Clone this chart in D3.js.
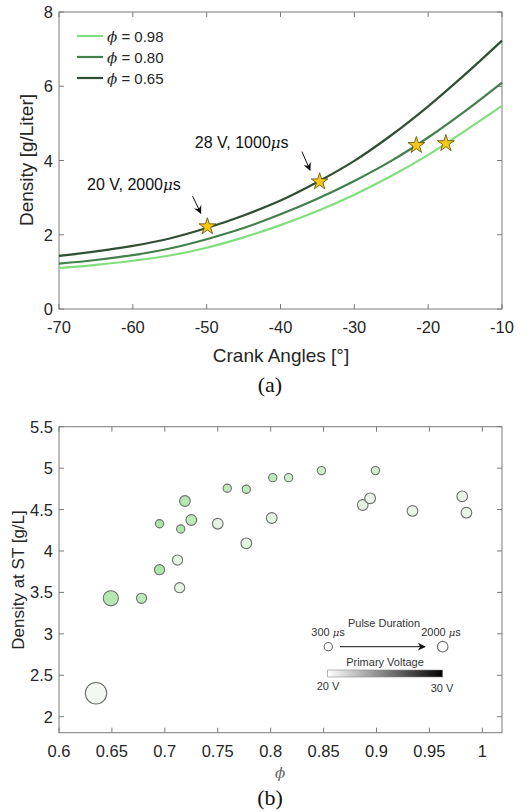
<!DOCTYPE html>
<html><head><meta charset="utf-8">
<script src="https://cdn.jsdelivr.net/npm/d3@7"></script>
<style>body{margin:0;background:#fff;} svg{display:block;font-family:"Liberation Sans",Arial,sans-serif;}</style>
</head><body>
<svg id="c" width="527" height="812"></svg>
<script>
// ---------- Data: panel (a) ----------
const crankAngles = [-70,-65,-60,-55,-50,-45,-40,-35,-30,-25,-20,-15,-10];
const dens098 = [1.10,1.19,1.30,1.44,1.65,1.93,2.26,2.64,3.08,3.58,4.15,4.80,5.47];
const dens080 = [1.22,1.32,1.45,1.63,1.88,2.18,2.55,2.97,3.45,3.99,4.62,5.33,6.10];
const dens065 = [1.43,1.55,1.70,1.90,2.18,2.52,2.92,3.42,3.99,4.68,5.46,6.32,7.23];
const seriesNames = ["ϕ = 0.98","ϕ = 0.80","ϕ = 0.65"];
const starCrank = [-49.9,-34.7,-21.6,-17.6];
const starDens = [2.22,3.43,4.41,4.46];
const annoText = ["20 V, 2000","28 V, 1000"];
const annoX = [-66.2,-51.6];
const annoY = [3.2,4.33];
const arrowFrom = [[-51.9,3.04],[-37.1,4.24]];
const arrowTo = [[-50.8,2.58],[-36.0,3.74]];
const xTicksA = [-70,-60,-50,-40,-30,-20,-10];
const yTicksA = [0,2,4,6,8];

// ---------- Data: panel (b) ----------
const phiVals = [0.848,0.899,0.802,0.817,0.759,0.777,0.719,0.695,0.715,0.725,0.750,0.801,0.777,0.887,0.894,0.934,0.981,0.985,0.712,0.695,0.714,0.649,0.678,0.635];
const densST  = [4.97,4.97,4.885,4.885,4.757,4.745,4.603,4.329,4.265,4.374,4.329,4.398,4.093,4.555,4.636,4.483,4.66,4.462,3.891,3.774,3.557,3.429,3.429,2.283];
const pulseUs = [300,300,300,300,300,300,500,300,300,500,500,500,500,500,500,500,500,500,450,450,450,1000,450,2000];
const voltV   = [25,25,27,25,27,27,28,29,29,27,22,22,22,22,21,21,21,21,22,29,22,28,27,20];
const xTicksB = [0.6,0.65,0.7,0.75,0.8,0.85,0.9,0.95,1];
const yTicksB = [2,2.5,3,3.5,4,4.5,5,5.5];

const svg = d3.select("#c");
const txt = "#262626", axc = "#7a7a7a";

function frame(g, x, y, xt, yt, fmtX, fmtY) {
  const [x0,x1] = x.range(), [y0,y1] = y.range();
  g.append("rect").attr("x",x0).attr("y",y1).attr("width",x1-x0).attr("height",y0-y1)
    .attr("fill","none").attr("stroke",axc).attr("stroke-width",1);
  const tl = 5;
  xt.forEach(v=>{
    g.append("line").attr("x1",x(v)).attr("x2",x(v)).attr("y1",y0).attr("y2",y0-tl).attr("stroke",axc);
    g.append("line").attr("x1",x(v)).attr("x2",x(v)).attr("y1",y1).attr("y2",y1+tl).attr("stroke",axc);
    g.append("text").attr("x",x(v)).attr("y",y0+24).attr("text-anchor","middle")
      .attr("font-size",16.5).attr("fill",txt).text(fmtX(v));
  });
  yt.forEach(v=>{
    g.append("line").attr("x1",x0).attr("x2",x0+tl).attr("y1",y(v)).attr("y2",y(v)).attr("stroke",axc);
    g.append("line").attr("x1",x1).attr("x2",x1-tl).attr("y1",y(v)).attr("y2",y(v)).attr("stroke",axc);
    g.append("text").attr("x",x0-6).attr("y",y(v)+6).attr("text-anchor","end")
      .attr("font-size",16.5).attr("fill",txt).text(fmtY(v));
  });
}

// ---------- Panel (a) ----------
const xA = d3.scaleLinear().domain([-70,-10]).range([59,502]);
const yA = d3.scaleLinear().domain([0,8]).range([309,12]);
const gA = svg.append("g");
frame(gA, xA, yA, xTicksA, yTicksA, d=>String(d), d=>d);

const lineColors = ["#80df7c","#437f4b","#2f4f34"];
const allSeries = [dens098, dens080, dens065];
const line = d3.line().x((d,i)=>xA(crankAngles[i])).y(d=>yA(d)).curve(d3.curveCatmullRom.alpha(0.5));
allSeries.forEach((s,k)=>{
  gA.append("path").attr("d",line(s)).attr("fill","none").attr("stroke",lineColors[k]).attr("stroke-width",2.2);
});

// legend
seriesNames.forEach((n,k)=>{
  const yy = 36 + k*21;
  gA.append("line").attr("x1",77).attr("x2",103).attr("y1",yy).attr("y2",yy).attr("stroke",lineColors[k]).attr("stroke-width",2.2);
  const t = gA.append("text").attr("x",107).attr("y",yy+5.5).attr("font-size",15).attr("fill",txt);
  t.append("tspan").attr("font-style","italic").attr("font-family","'DejaVu Serif',serif").text(n.slice(0,1));
  t.append("tspan").text(n.slice(1));
});

// arrows
svg.append("defs").append("marker").attr("id","ah").attr("viewBox","0 0 10 10").attr("refX",9).attr("refY",5)
  .attr("markerWidth",8).attr("markerHeight",8).attr("orient","auto").attr("markerUnits","userSpaceOnUse")
  .append("path").attr("d","M0,0 L10,5 L0,10 L3,5 z").attr("fill","#111");
arrowFrom.forEach((f,i)=>{
  gA.append("line").attr("x1",xA(f[0])).attr("y1",yA(f[1])).attr("x2",xA(arrowTo[i][0])).attr("y2",yA(arrowTo[i][1]))
    .attr("stroke","#111").attr("stroke-width",1).attr("marker-end","url(#ah)");
});
annoText.forEach((a,i)=>{
  const t = gA.append("text").attr("x",xA(annoX[i])).attr("y",yA(annoY[i])).attr("font-size",16).attr("fill","#111");
  t.append("tspan").text(a);
  t.append("tspan").attr("font-style","italic").attr("font-family","'DejaVu Serif',serif").attr("font-size",15).text("μ");
  t.append("tspan").text("s");
});

// stars
starCrank.forEach((c,i)=>{
  gA.append("path").attr("d",d3.symbol(d3.symbolStar,88)())
    .attr("transform",`translate(${xA(c)},${yA(starDens[i])})`)
    .attr("fill","#f6c716").attr("stroke","#5a4a10").attr("stroke-width",0.8);
});

gA.append("text").attr("x",281).attr("y",362).attr("text-anchor","middle").attr("font-size",19).attr("fill",txt).text("Crank Angles [°]");
gA.append("text").attr("transform","translate(33,160) rotate(-90)").attr("text-anchor","middle").attr("font-size",19).attr("fill",txt).text("Density [g/Liter]");
gA.append("text").attr("x",270).attr("y",392).attr("text-anchor","middle").attr("font-size",22)
  .attr("font-family","'Liberation Serif','Times New Roman',serif").attr("fill","#111").text("(a)");

// ---------- Panel (b) ----------
const xB = d3.scaleLinear().domain([0.6,1.0186]).range([59,502]);
const yB = d3.scaleLinear().domain([1.807,5.5]).range([732.7,426.7]);
const gB = svg.append("g");
frame(gB, xB, yB, xTicksB, yTicksB, d=>String(d), d=>String(d));

const rScale = d3.scaleSqrt().domain([0,2000]).range([0,10.7]);
const cScale = d3.scaleLinear().domain([20,30]).range(["#f3f7f2","#a6e4a1"]);
const idx = d3.range(phiVals.length).sort((a,b)=>pulseUs[b]-pulseUs[a]);
gB.selectAll("circle.pt").data(idx).join("circle").attr("class","pt")
  .attr("cx",i=>xB(phiVals[i])).attr("cy",i=>yB(densST[i])).attr("r",i=>rScale(pulseUs[i]))
  .attr("fill",i=>cScale(voltV[i])).attr("stroke","#6e6e6e").attr("stroke-width",1.1);

// legend (b)
const lg = gB.append("g").attr("fill","#333").attr("font-size",11);
lg.append("text").attr("x",384).attr("y",627).attr("text-anchor","middle").text("Pulse Duration");
const lbl = (x,y,a)=>{const t=lg.append("text").attr("x",x).attr("y",y).attr("text-anchor","middle");
  t.append("tspan").text(a+" ");t.append("tspan").attr("font-style","italic").attr("font-family","'DejaVu Serif',serif").attr("font-size",10).text("μ");t.append("tspan").text("s");};
lbl(328,636,"300"); lbl(441,636,"2000");
lg.append("circle").attr("cx",328.3).attr("cy",646.7).attr("r",rScale(300)).attr("fill","#fff").attr("stroke","#6e6e6e").attr("stroke-width",1.1);
lg.append("circle").attr("cx",442.7).attr("cy",646.7).attr("r",5.3).attr("fill","#fff").attr("stroke","#6e6e6e").attr("stroke-width",1.1);
lg.append("line").attr("x1",340).attr("x2",425).attr("y1",646.7).attr("y2",646.7).attr("stroke","#111").attr("stroke-width",1).attr("marker-end","url(#ah)");
lg.append("text").attr("x",385).attr("y",666).attr("text-anchor","middle").text("Primary Voltage");
const grad = svg.select("defs").append("linearGradient").attr("id","vg");
grad.append("stop").attr("offset","0%").attr("stop-color","#ffffff");
grad.append("stop").attr("offset","100%").attr("stop-color","#000000");
lg.append("rect").attr("x",327.7).attr("y",670).attr("width",115).attr("height",7).attr("fill","url(#vg)").attr("stroke","#888").attr("stroke-width",0.6);
lg.append("text").attr("x",328).attr("y",690).attr("text-anchor","middle").text("20 V");
lg.append("text").attr("x",442).attr("y",692).attr("text-anchor","middle").text("30 V");

gB.append("text").attr("x",280).attr("y",778).attr("text-anchor","middle").attr("font-size",15).attr("font-style","italic")
  .attr("font-family","'DejaVu Serif',serif").attr("fill","#666").text("ϕ");
gB.append("text").attr("transform","translate(24,580) rotate(-90)").attr("text-anchor","middle").attr("font-size",17).attr("fill",txt).text("Density at ST [g/L]");
gB.append("text").attr("x",270).attr("y",805).attr("text-anchor","middle").attr("font-size",22)
  .attr("font-family","'Liberation Serif','Times New Roman',serif").attr("fill","#111").text("(b)");
</script>
</body></html>
